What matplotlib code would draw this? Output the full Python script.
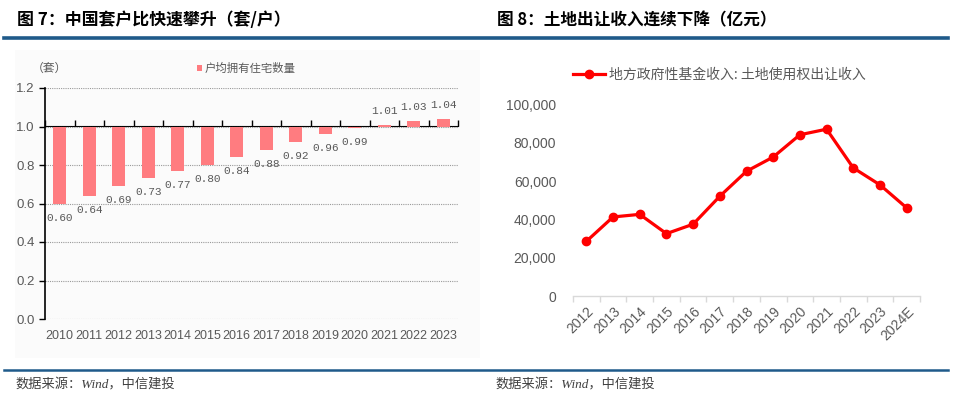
import matplotlib
matplotlib.use("Agg")
import matplotlib.pyplot as plt
from matplotlib.patches import Rectangle
from matplotlib.lines import Line2D
import numpy as np

plt.rcParams['font.family'] = ['Liberation Sans', 'Noto Sans CJK SC', 'DejaVu Sans']

# ---- data ----
years_left = ['2010', '2011', '2012', '2013', '2014', '2015', '2016',
              '2017', '2018', '2019', '2020', '2021', '2022', '2023']
units_per_household = [0.60, 0.64, 0.69, 0.73, 0.77, 0.80, 0.84,
                       0.88, 0.92, 0.96, 0.99, 1.01, 1.03, 1.04]

years_right = ['2012', '2013', '2014', '2015', '2016', '2017', '2018',
               '2019', '2020', '2021', '2022', '2023', '2024E']
land_revenue = [28517, 41250, 42606, 32547, 37457, 52059, 65096,
                72517, 84142, 87051, 66854, 57996, 46000]

title_left = '图 7：中国套户比快速攀升（套/户）'
title_right = '图 8：土地出让收入连续下降（亿元）'
legend_left = '户均拥有住宅数量'
legend_right = '地方政府性基金收入: 土地使用权出让收入'
source_text = '数据来源：Wind，中信建投'

BLUE = '#1F5A8A'
GRAY = '#595959'
BAR = '#FF7C80'

fig = plt.figure(figsize=(9.6, 4.09), dpi=100)

# faint background panel behind left chart
fig.patches.append(Rectangle((15/960, 1-358/409), (480-15)/960, (358-50)/409,
                             transform=fig.transFigure, facecolor='#FBFBFB',
                             edgecolor='none', zorder=-5))

# header / footer rules
fig.add_artist(Line2D([4/960, 948/960], [1-38/409, 1-38/409], color=BLUE, lw=2.6,
                      transform=fig.transFigure))
fig.add_artist(Line2D([4/960, 948/960], [1-370/409, 1-370/409], color=BLUE, lw=1.8,
                      transform=fig.transFigure))

cjk = ['Noto Sans CJK SC', 'DejaVu Sans']
fig.text(17/960, 1-20/409, title_left, fontsize=12.2, fontweight='bold',
         family=cjk, va='center', ha='left', color='black')
fig.text(497/960, 1-20/409, title_right, fontsize=12.0, fontweight='bold',
         family=cjk, va='center', ha='left', color='black')
for xs in (15/960, 495/960):
    fig.text(xs, 1-385/409, source_text, fontsize=9.5, style='italic',
             family=['Liberation Serif', 'Noto Sans CJK SC'], va='center',
             ha='left', color='#404040')

# ---------------- left chart ----------------
axL = fig.add_axes([45/960, 1-319/409, (458-45)/960, (319-88)/409])
axL.set_facecolor('none')
axL.set_zorder(2)
x = np.arange(len(years_left))
vals = np.array(units_per_household)
axL.bar(x, vals - 1.0, bottom=1.0, width=0.43, color=BAR, zorder=3)
axL.set_xlim(-0.5, len(x) - 0.5)
axL.set_ylim(0, 1.2)
axL.set_yticks(np.arange(0, 1.21, 0.2))
axL.set_yticklabels([f'{v:.1f}' for v in np.arange(0, 1.21, 0.2)])
axL.yaxis.grid(True, linestyle=(0, (1, 1)), color='#9A9A9A', lw=0.8, zorder=0)
axL.set_xticks(x)
axL.set_xticklabels(years_left)
axL.tick_params(axis='x', length=0, labelsize=9, colors=GRAY, pad=8, labelcolor=GRAY)
axL.tick_params(axis='y', length=4, width=1, labelsize=9.5, colors='black', labelcolor=GRAY)
for s in ('top', 'right', 'bottom'):
    axL.spines[s].set_visible(False)
axL.spines['left'].set_linewidth(1.2)
axL.spines['left'].set_color('black')
# x-axis line crossing at 1.0 with ticks at category boundaries
sec = axL.secondary_xaxis(1.0 / 1.2)
sec.set_xticks(np.arange(-0.5, len(x), 1.0))
sec.set_xticklabels([])
sec.tick_params(direction='out', length=4, width=1, colors='black')
sec.spines['bottom'].set_linewidth(1.3)
sec.spines['bottom'].set_color('black')
for xi, v in zip(x, vals):
    off = -14 if v < 1 else 14
    axL.annotate(f'{v:.2f}', (xi, v), xytext=(0, off), textcoords='offset pixels',
                 ha='center', va='center', fontsize=8, family='Liberation Mono', color=GRAY)
fig.text(32/960, 1-68/409, '（套）', fontsize=8.5, family=cjk, color=GRAY, va='center', ha='left')
fig.patches.append(Rectangle((197/960, 1-71/409), 5/960, 6/409, transform=fig.transFigure,
                             facecolor=BAR, edgecolor='none'))
fig.text(205/960, 1-68/409, legend_left, fontsize=8.2, family=cjk, color=GRAY, va='center', ha='left')

# ---------------- right chart ----------------
axR = fig.add_axes([573/960, 1-296/409, (920-573)/960, (296-94.8)/409])
axR.set_facecolor('none')
xr = np.arange(len(years_right))
axR.plot(xr, land_revenue, color='#FF0000', lw=2.3, marker='o', markersize=6,
         label=legend_right, zorder=3)
axR.set_xlim(-0.5, len(xr) - 0.5)
axR.set_ylim(0, 105000)
axR.set_yticks(np.arange(0, 100001, 20000))
axR.set_yticklabels([f'{int(v):,}' for v in np.arange(0, 100001, 20000)])
axR.tick_params(axis='y', length=0, labelsize=10, labelcolor=GRAY, pad=12)
axR.set_xticks(xr)
axR.set_xticklabels(years_right, rotation=45, ha='right', rotation_mode='anchor')
axR.set_xticks(np.arange(-0.5, len(xr), 1.0), minor=True)
axR.tick_params(axis='x', which='major', length=0, labelsize=10, labelcolor=GRAY, pad=6)
axR.tick_params(axis='x', which='minor', length=4, width=1, color='#D9D9D9')
for s in ('top', 'right', 'left'):
    axR.spines[s].set_visible(False)
axR.spines['bottom'].set_color('#D9D9D9')
axR.spines['bottom'].set_linewidth(1)
leg = axR.legend(loc='center', bbox_to_anchor=(719/960, 1-75/409), bbox_transform=fig.transFigure,
                 frameon=False, prop={'family': cjk, 'size': 10}, handlelength=2.3,
                 handletextpad=0.3, borderaxespad=0)
for t in leg.get_texts():
    t.set_color(GRAY)

fig.savefig('out.png', dpi=100)
